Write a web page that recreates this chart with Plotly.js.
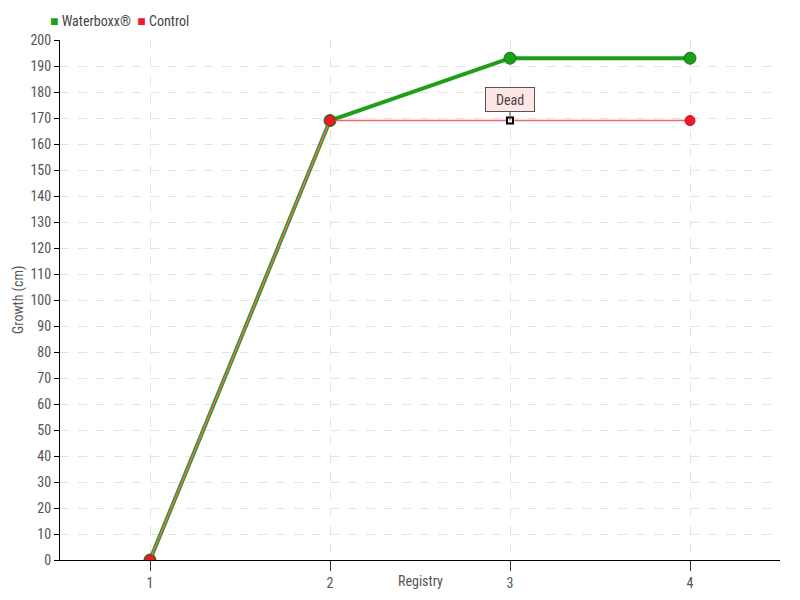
<!DOCTYPE html>
<html><head><meta charset="utf-8">
<script src="https://cdn.plot.ly/plotly-3.0.1.min.js"></script>
<style>body{margin:0;background:#fff}#c{width:800px;height:600px}</style>
</head><body><div id="c"></div>
<script>
const registry = [1, 2, 3, 4];
const waterboxx = [0, 169, 193, 193];
const control = [0, 169, 169, 169];
const yTicks = [0,10,20,30,40,50,60,70,80,90,100,110,120,130,140,150,160,170,180,190,200];
const deadIndex = 2;
const seriesNames = ['Waterboxx®', 'Control'];

const fontFam = '"Roboto Condensed", "Liberation Sans Narrow", Roboto, sans-serif';
const green = '#1f9e1a', red = '#ee1c2a';

const aliveX = registry.filter((v,i)=> i!==deadIndex);
const aliveY = control.filter((v,i)=> i!==deadIndex);

const traces = [
  {x: registry, y: waterboxx, mode: 'lines+markers', name: seriesNames[0], showlegend: false,
   line: {color: green, width: 4}, marker: {color: green, size: 12, line: {color: '#167a12', width: 1}}},
  {x: registry, y: control, mode: 'lines', name: seriesNames[1], showlegend: false,
   line: {color: '#ee6672', width: 1.5}},
  {x: aliveX, y: aliveY, mode: 'markers', name: seriesNames[1], showlegend: false,
   marker: {color: red, size: 10, line: {color: '#c8101c', width: 1}}},
  {x: [registry[deadIndex]], y: [control[deadIndex]], mode: 'markers', showlegend: false,
   marker: {color: '#ffffff', size: 6, symbol: 'square', line: {color: '#000', width: 2}}}
];

const legendHtml = '<span style="color:' + green + '">■</span> ' + seriesNames[0] +
  '  <span style="color:' + red + '">■</span> ' + seriesNames[1];

const layout = {
  width: 800, height: 600,
  margin: {l: 60, r: 20, t: 40, b: 40},
  paper_bgcolor: '#fff', plot_bgcolor: '#fff',
  font: {family: fontFam, size: 14, color: '#555'},
  showlegend: false,
  xaxis: {range: [0.5, 4.5], tickvals: registry, ticktext: registry.map(String),
          showgrid: true, gridcolor: '#e3e3e3', griddash: 'dash', zeroline: false,
          showline: true, linecolor: '#000', linewidth: 1, ticks: 'outside', ticklen: 10, tickcolor: '#333',
          fixedrange: true},
  yaxis: {range: [0, 200], tickvals: yTicks, ticktext: yTicks.map(String),
          showgrid: true, gridcolor: '#e3e3e3', griddash: 'dash', zeroline: false,
          showline: true, linecolor: '#000', linewidth: 1, ticks: 'outside', ticklen: 5, tickcolor: '#000',
          fixedrange: true},
  annotations: [
    {x: registry[deadIndex], y: control[deadIndex], xref: 'x', yref: 'y', text: 'Dead',
     showarrow: true, arrowhead: 0, arrowwidth: 1, arrowcolor: '#555', ax: 0, ay: -21,
     bgcolor: '#ffe6e6', bordercolor: '#555', borderwidth: 1, borderpad: 4, width: 40, height: 15,
     font: {size: 14, color: '#444'}},
    {text: 'Registry', xref: 'paper', yref: 'paper', x: 0.5, y: -0.0404, xanchor: 'center', yanchor: 'middle',
     showarrow: false, font: {size: 14, color: '#555'}},
    {text: 'Growth (cm)', xref: 'paper', yref: 'paper', x: -0.0583, y: 0.5, xanchor: 'center', yanchor: 'middle',
     textangle: -90, showarrow: false, font: {size: 14, color: '#555'}},
    {text: legendHtml, xref: 'paper', yref: 'paper', x: -0.0167, y: 1.0365, xanchor: 'left', yanchor: 'middle',
     showarrow: false, font: {size: 14, color: '#444'}}
  ]
};
Plotly.newPlot('c', traces, layout, {displayModeBar: false, staticPlot: true});
</script></body></html>
